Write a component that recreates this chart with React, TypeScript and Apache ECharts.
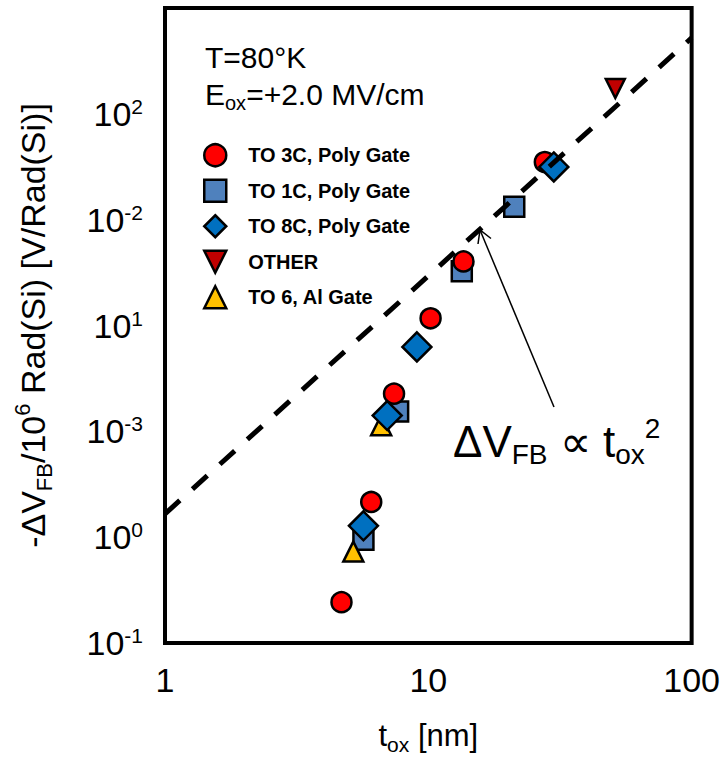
import React, { useEffect, useRef } from 'react';
import * as echarts from 'echarts';

// ---- data (t_ox in nm, y value on the chart's log scale) ----
const to3cX = [4.68, 6.07, 7.41, 10.2, 13.6, 27.7];
const to3cY = [0.243, 2.15, 22.7, 117, 403, 3505];

const to1cX = [5.67, 7.68, 13.4, 21.2];
const to1cY = [0.947, 15.4, 325, 1324];

const to8cX = [5.67, 6.98, 9.05, 29.96];
const to8cY = [1.28, 14.1, 62.8, 3148];

const otherX = [51.3];
const otherY = [17340];

const to6X = [5.19, 6.62];
const to6Y = [0.731, 11.4];

const fitX = [1, 100];
const fitY = [1.66, 52200];

// tick labels on the y axis, bottom to top (base, exponent)
const yTickBase = ['10', '10', '10', '10', '10', '10', ''];
const yTickExp = ['-1', '0', '-3', '1', '-2', '2', ''];

const legendNames = ['TO 3C, Poly Gate', 'TO 1C, Poly Gate', 'TO 8C, Poly Gate', 'OTHER', 'TO 6, Al Gate'];

const FONT = "'Liberation Sans', Arial, Helvetica, sans-serif";

const zip = (xs: number[], ys: number[]) => xs.map((x, i) => [x, ys[i]]);

export default function App() {
  const ref = useRef<HTMLDivElement>(null);

  useEffect(() => {
    if (!ref.current) return;
    const chart = echarts.init(ref.current, undefined, { renderer: 'svg' });

    const markerStyle = (color: string) => ({
      color,
      borderColor: '#000',
      borderWidth: 2.5,
      opacity: 1,
    });

    const option: any = {
      animation: false,
      backgroundColor: '#fff',
      grid: {
        left: 165,
        top: 8,
        width: 531,
        height: 639,
        show: true,
        borderColor: '#000',
        borderWidth: 4,
        backgroundColor: 'transparent',
      },
      xAxis: {
        type: 'log',
        logBase: 10,
        min: 1,
        max: 100,
        axisLine: { show: false },
        axisTick: { show: false },
        splitLine: { show: false },
        axisLabel: {
          margin: 20,
          fontSize: 34,
          color: '#000',
          fontFamily: FONT,
        },
        name: '{n|t}{sub|ox}{n| [nm]}',
        nameLocation: 'middle',
        nameGap: 72,
        nameTextStyle: {
          color: '#000',
          fontFamily: FONT,
          rich: {
            n: { fontSize: 31, lineHeight: 40, fontFamily: FONT, color: '#000' },
            sub: { fontSize: 21, lineHeight: 21, verticalAlign: 'bottom', fontFamily: FONT, color: '#000' },
          },
        },
      },
      yAxis: {
        type: 'log',
        logBase: 10,
        min: 0.1,
        max: 1e5,
        axisLine: { show: false },
        axisTick: { show: false },
        splitLine: { show: false },
        axisLabel: {
          margin: 22,
          color: '#000',
          fontFamily: FONT,
          formatter: (val: number) => {
            const i = Math.round(Math.log10(val)) + 1;
            if (!yTickBase[i]) return '';
            return `{b|${yTickBase[i]}}{s|${yTickExp[i]}}`;
          },
          rich: {
            b: { fontSize: 34, lineHeight: 36, fontFamily: FONT, color: '#000' },
            s: { fontSize: 21, lineHeight: 21, verticalAlign: 'top', fontFamily: FONT, color: '#000' },
          },
        },
        name: '{n|-ΔV}{sub|FB}{n|/10}{sup|6}{n| Rad(Si) [V/Rad(Si)]}',
        nameLocation: 'middle',
        nameGap: 110,
        nameTextStyle: {
          color: '#000',
          fontFamily: FONT,
          rich: {
            n: { fontSize: 34, lineHeight: 44, fontFamily: FONT, color: '#000' },
            sub: { fontSize: 22, lineHeight: 22, verticalAlign: 'bottom', fontFamily: FONT, color: '#000' },
            sup: { fontSize: 22, lineHeight: 22, verticalAlign: 'top', fontFamily: FONT, color: '#000' },
          },
        },
      },
      legend: {
        data: legendNames,
        orient: 'vertical',
        left: 203,
        top: 143,
        padding: 0,
        itemWidth: 22,
        itemHeight: 22,
        itemGap: 11,
        selectedMode: false,
        itemStyle: { borderColor: '#000', borderWidth: 2.5 },
        textStyle: {
          fontSize: 20,
          fontWeight: 'bold',
          color: '#000',
          fontFamily: FONT,
          padding: [0, 0, 0, 17],
        },
      },
      series: [
        {
          name: 'fit',
          type: 'line',
          data: zip(fitX, fitY),
          symbol: 'none',
          silent: true,
          lineStyle: { color: '#000', width: 5, type: [20, 17], cap: 'butt' },
        },
        {
          name: 'TO 1C, Poly Gate',
          type: 'scatter',
          symbol: 'rect',
          symbolSize: 20,
          data: zip(to1cX, to1cY),
          itemStyle: markerStyle('#4F81BD'),
        },
        {
          name: 'TO 6, Al Gate',
          type: 'scatter',
          symbol: 'triangle',
          symbolSize: 20,
          data: zip(to6X, to6Y),
          itemStyle: markerStyle('#FFC000'),
        },
        {
          name: 'TO 3C, Poly Gate',
          type: 'scatter',
          symbol: 'circle',
          symbolSize: 20,
          data: zip(to3cX, to3cY),
          itemStyle: markerStyle('#FF0000'),
        },
        {
          name: 'TO 8C, Poly Gate',
          type: 'scatter',
          symbol: 'diamond',
          symbolSize: 29,
          data: zip(to8cX, to8cY),
          itemStyle: markerStyle('#0070C0'),
        },
        {
          name: 'OTHER',
          type: 'scatter',
          symbol: 'path://M0,0L10,0L5,10Z',
          symbolKeepAspect: true,
          symbolSize: 19,
          data: zip(otherX, otherY),
          itemStyle: markerStyle('#C00000'),
        },
      ],
      graphic: [
        {
          type: 'text',
          x: 205,
          y: 57.5,
          style: {
            text: 'T=80°K',
            fontSize: 30,
            fontFamily: FONT,
            fill: '#000',
            verticalAlign: 'middle',
          },
        },
        {
          type: 'text',
          x: 205,
          y: 94,
          style: {
            text: '{n|E}{sub|ox}{n|=+2.0 MV/cm}',
            verticalAlign: 'middle',
            fill: '#000',
            rich: {
              n: { fontSize: 30, lineHeight: 38, fontFamily: FONT, fill: '#000' },
              sub: { fontSize: 20, lineHeight: 20, verticalAlign: 'bottom', fontFamily: FONT, fill: '#000' },
            },
          },
        },
        {
          type: 'text',
          x: 453,
          y: 441,
          style: {
            text: '{n|ΔV}{sub|FB}{n| ∝ t}{sub|ox}{sup|2}',
            verticalAlign: 'middle',
            fill: '#000',
            rich: {
              n: { fontSize: 44, lineHeight: 54, fontFamily: FONT, fill: '#000' },
              sub: { fontSize: 28, lineHeight: 28, verticalAlign: 'bottom', fontFamily: FONT, fill: '#000' },
              sup: { fontSize: 28, lineHeight: 28, verticalAlign: 'top', fontFamily: FONT, fill: '#000' },
            },
          },
        },
        {
          type: 'line',
          shape: { x1: 554, y1: 407, x2: 480, y2: 230 },
          style: { stroke: '#000', lineWidth: 1.5 },
        },
        {
          type: 'polyline',
          shape: { points: [[478, 244], [480, 230], [491, 238.5]] },
          style: { stroke: '#000', lineWidth: 1.5, fill: null },
        },
      ],
    };

    chart.setOption(option);
    return () => {
      chart.dispose();
    };
  }, []);

  return (
    <div
      ref={ref}
      style={{ position: 'absolute', left: 0, top: 0, width: 723, height: 760, background: '#fff' }}
    />
  );
}
